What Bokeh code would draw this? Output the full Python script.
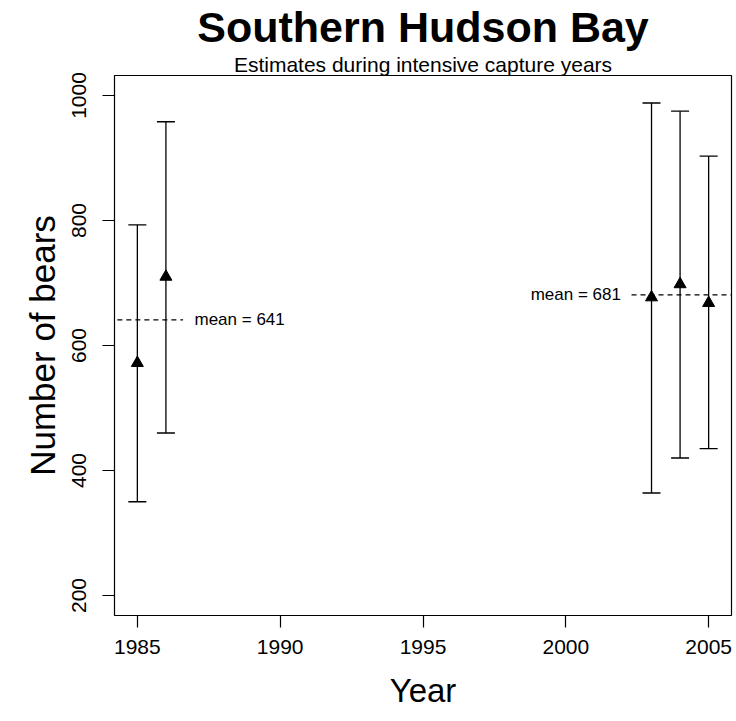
from bokeh.plotting import figure
from bokeh.models import Range1d, FixedTicker, Whisker, TeeHead, ColumnDataSource, Title
from bokeh.embed import file_html
from bokeh.resources import INLINE
from bokeh.core.properties import value

# ---- data ----
years = [1985, 1986, 2003, 2004, 2005]
estimates = [572, 710, 677, 698, 668]
lower = [350, 460, 364, 420, 435]
upper = [793, 958, 988, 975, 903]

mean_values = [641, 681]
mean_x_start = [1984.3, 2002.3]
mean_x_end = [1986.6, 2005.8]
mean_labels = ["mean = 641", "mean = 681"]
mean_label_x = [1987.0, 2001.93]

x_ticks = [1985, 1990, 1995, 2000, 2005]
y_ticks = [200, 400, 600, 800, 1000]
x_lim = (1985, 2005)
y_lim = (200, 1000)

FONT = "Liberation Sans"

def ext(lim, f=0.04):
    d = (lim[1] - lim[0]) * f
    return lim[0] - d, lim[1] + d

xr = ext(x_lim)
yr = ext(y_lim)

p = figure(width=736, height=721, output_backend="svg", toolbar_location=None,
           x_range=Range1d(*xr), y_range=Range1d(*yr),
           frame_width=617, frame_height=540,
           min_border_left=114, min_border_right=5, min_border_top=75, min_border_bottom=106)
p.title = None
p.xgrid.visible = False
p.ygrid.visible = False
p.background_fill_color = "white"
p.border_fill_color = "white"
p.outline_line_color = "black"
p.outline_line_width = 1.2

for ax in (p.xaxis[0], p.yaxis[0]):
    ax.axis_line_color = None
    ax.major_tick_line_color = "black"
    ax.major_tick_line_width = 1.2
    ax.major_tick_out = 12
    ax.major_tick_in = 0
    ax.minor_tick_line_color = None
    ax.major_label_text_font = FONT
    ax.major_label_text_font_size = "21px"
    ax.major_label_text_color = "black"
    ax.axis_label_text_font = FONT
    ax.axis_label_text_font_style = "normal"
    ax.axis_label_text_color = "black"

p.xaxis[0].axis_label_text_font_size = "33px"
p.yaxis[0].axis_label_text_font_size = "35px"
p.xaxis[0].ticker = FixedTicker(ticks=x_ticks)
p.yaxis[0].ticker = FixedTicker(ticks=y_ticks)
p.xaxis[0].axis_label = "Year"
p.yaxis[0].axis_label = "Number of bears"
p.yaxis[0].major_label_orientation = "vertical"
p.xaxis[0].major_label_standoff = 12
p.yaxis[0].major_label_standoff = 17
p.xaxis[0].axis_label_standoff = 15
p.yaxis[0].axis_label_standoff = 7

src = ColumnDataSource(data=dict(x=years, est=estimates, lo=lower, hi=upper))

w = Whisker(source=src, base="x", lower="lo", upper="hi", dimension="height",
            line_color="black", line_width=1.3,
            lower_head=TeeHead(size=18, line_color="black", line_width=1.3),
            upper_head=TeeHead(size=18, line_color="black", line_width=1.3))
p.add_layout(w)

p.scatter("x", "est", source=src, marker="triangle", size=12,
          fill_color="black", line_color="black")

p.segment(x0=mean_x_start, y0=mean_values, x1=mean_x_end, y1=mean_values,
          line_color="black", line_width=1.1, line_dash="5 4")

p.text(x=[mean_label_x[0]], y=[mean_values[0]], text=[mean_labels[0]],
       text_font=value(FONT), text_font_size="17px", text_align="left",
       text_baseline="middle", text_color="black")
p.text(x=[mean_label_x[1]], y=[mean_values[1]], text=[mean_labels[1]],
       text_font=value(FONT), text_font_size="17px", text_align="right",
       text_baseline="middle", text_color="black")

sub = Title(text="Estimates during intensive capture years", align="center",
            text_font=FONT, text_font_size="21px", text_font_style="normal",
            text_color="black", standoff=0)
main = Title(text="Southern Hudson Bay", align="center",
             text_font=FONT, text_font_size="43px", text_font_style="bold",
             text_color="black", standoff=0)
p.add_layout(sub, "above")
p.add_layout(main, "above")

open("out.html", "w").write(file_html(p, INLINE))
